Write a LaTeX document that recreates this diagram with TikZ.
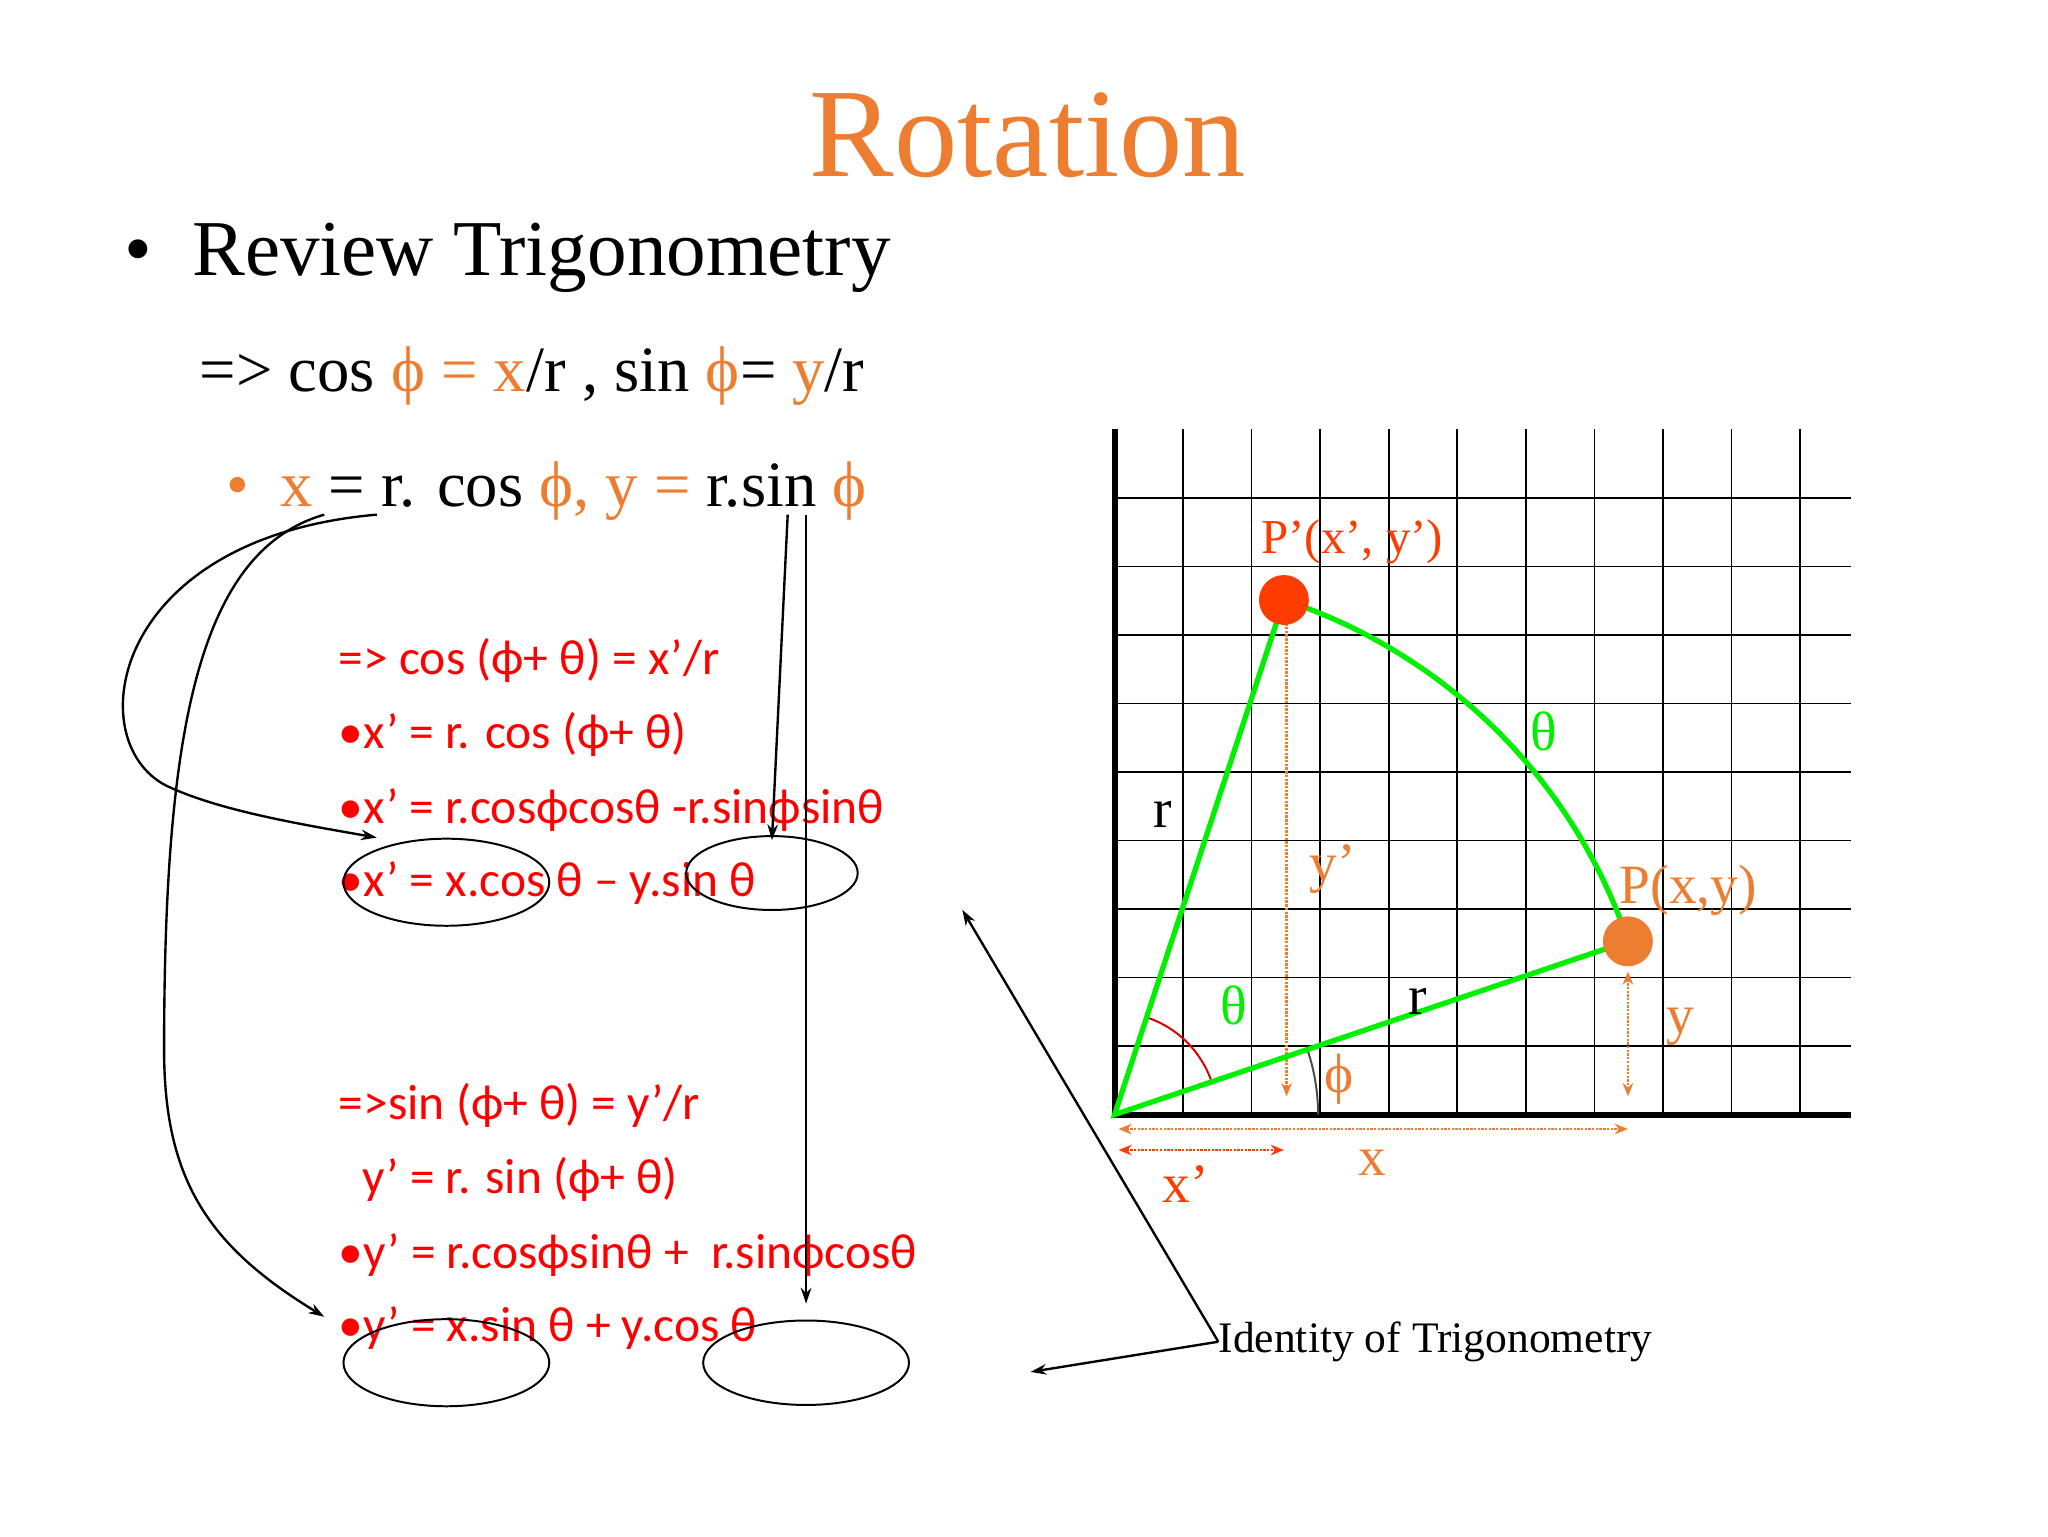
\documentclass[tikz,border=0pt]{standalone}
\usepackage{fontspec}
\setmainfont{Liberation Serif}
\newfontfamily\calfont{Carlito}
\usetikzlibrary{arrows.meta,shapes.geometric}
\definecolor{org}{RGB}{237,125,49}
\definecolor{rd}{RGB}{255,0,0}
\definecolor{grn}{RGB}{0,240,0}
\definecolor{ored}{RGB}{255,60,0}
\tikzset{conn/.style={black,line width=1.8pt,-{Stealth[length=12pt,width=8pt]}},
ell/.style={draw,black,line width=1.5pt,ellipse},
eq/.style={anchor=base west,text=rd,font=\calfont\fontsize{37.5}{37.5}\selectfont,inner sep=0},
dot/.style={org,densely dotted,line width=1.8pt,-{Stealth[length=10pt,width=8pt]}},
lab/.style={font=\fontsize{42}{42}\selectfont,inner sep=0}}
\begin{document}
\begin{tikzpicture}[x=0.995pt,y=-0.995pt]
\useasboundingbox (0,0) rectangle (1560,1170);
\fill[white] (0,0) rectangle (1560,1170);
\node[text=org,font=\fontsize{96}{96}\selectfont] (title) at (783,103) {Rotation};
\node[anchor=base west,font=\fontsize{60}{60}\selectfont,inner sep=0] (rev) at (95,210) {•\hspace{30pt}Review Trigonometry};
\node[anchor=base west,font=\fontsize{49}{49}\selectfont,inner sep=0] (l1) at (152,298) {=> cos \textcolor{org}{ϕ = x}/r , sin \textcolor{org}{ϕ}= \textcolor{org}{y}/r};
\node[anchor=base west,font=\fontsize{49}{49}\selectfont,inner sep=0] (l2) at (172,386) {\textcolor{org}{•\hspace{24pt}x} = r. cos \textcolor{org}{ϕ, y =} r.sin \textcolor{org}{ϕ}};
\node[eq] (e1) at (258,514) {=> cos (ϕ+ θ) = x’/r};
\node[eq] (e2) at (258,570) {•x’ = r. cos (ϕ+ θ)};
\node[eq] (e3) at (258,627) {•x’ = r.cosϕcosθ -r.sinϕsinθ};
\node[eq] (e4) at (258,683) {•x’ = x.cos θ – y.sin θ};
\node[eq] (f1) at (258,853) {=>sin (ϕ+ θ) = y’/r};
\node[eq] (f2) at (276,909) {y’ = r. sin (ϕ+ θ)};
\node[eq] (f3) at (258,966) {•y’ = r.cosϕsinθ +\ \ r.sinϕcosθ};
\node[eq] (f4) at (258,1022) {•y’ = x.sin θ + y.cos θ};
\node[ell,minimum width=156pt,minimum height=66pt] (o1) at (340,672) {};
\node[ell,minimum width=130pt,minimum height=56pt] (o2) at (588,665) {};
\node[ell,minimum width=156pt,minimum height=66pt] (o3) at (340,1038) {};
\node[ell,minimum width=156pt,minimum height=64pt] (o4) at (614,1038) {};
\coordinate (s1) at (287,392); \coordinate (s2) at (247,392);
\coordinate (s3) at (600,392); \coordinate (s4) at (614,392);
\coordinate (t1) at (287,638); \coordinate (t2) at (247,1003);
\coordinate (t3) at (588,640); \coordinate (t4) at (614,993);
\draw[conn] (s1) .. controls (80,410) and (60,570) .. (130,600) .. controls (170,618) and (230,628) .. (t1);
\draw[conn] (s2) .. controls (150,420) and (125,560) .. (125,800) .. controls (125,900) and (160,950) .. (t2);
\draw[conn] (s3) -- (t3);
\draw[conn] (s4) -- (t4);
\node[anchor=west,font=\fontsize{33}{33}\selectfont,inner sep=0] (id) at (928,1022) {Identity of Trigonometry};
\draw[conn] (id.west) -- (733,693);
\draw[conn] (id.west) -- (785,1045);
% grid
\foreach \i in {1,...,10} \draw[black,line width=1.2pt] (849+52.2*\i,327) -- (849+52.2*\i,849);
\foreach \j in {1,...,9} \draw[black,line width=1.2pt] (849,849-52.2*\j) -- (1410,849-52.2*\j);
\draw[black,line width=4.5pt] (849,327) -- (849,849) -- (1410,849);
\coordinate (O) at (849,849);
\coordinate (Pp) at (978,457); \coordinate (P) at (1240,717);
\draw[red!85!black,line width=1.5pt] (O) ++(-71.8:78) arc[start angle=-71.8,end angle=-18.6,radius=78];
\draw[black!70,line width=1.5pt] (O) ++(-18.6:155) arc[start angle=-18.6,end angle=0,radius=155];
\draw[dot] (980,472) -- (980,835);
\draw[dot,{Stealth[length=10pt,width=8pt]}-{Stealth[length=10pt,width=8pt]}] (1240,740) -- (1240,835);
\draw[dot,{Stealth[length=10pt,width=8pt]}-{Stealth[length=10pt,width=8pt]}] (852,860) -- (1240,860);
\draw[dot,ored,{Stealth[length=10pt,width=8pt]}-{Stealth[length=10pt,width=8pt]}] (852,876) -- (978,876);
\draw[grn,line width=4pt] (P) -- (O) -- (Pp) arc[start angle=-71.8,end angle=-18.6,radius=413];
\fill[ored] (Pp) circle (19);
\fill[org] (P) circle (19);
\node[lab,text=ored,font=\fontsize{37}{37}\selectfont] (lpp) at (1030,413) {P’(x’, y’)};
\node[lab,text=org] (lp) at (1286,678) {P(x,y)};
\node[lab,text=grn] (th1) at (1176,557) {θ};
\node[lab,text=grn] (th2) at (940,766) {θ};
\node[lab,text=org] (phi) at (1020,822) {ϕ};
\node[lab] (r1) at (886,620) {r};
\node[lab] (r2) at (1080,763) {r};
\node[lab,text=org] (yp) at (1015,662) {y’};
\node[lab,text=org] (y) at (1280,782) {y};
\node[lab,text=org] (x) at (1045,886) {x};
\node[lab,text=ored] (xp) at (903,902) {x’};
\end{tikzpicture}
\end{document}
